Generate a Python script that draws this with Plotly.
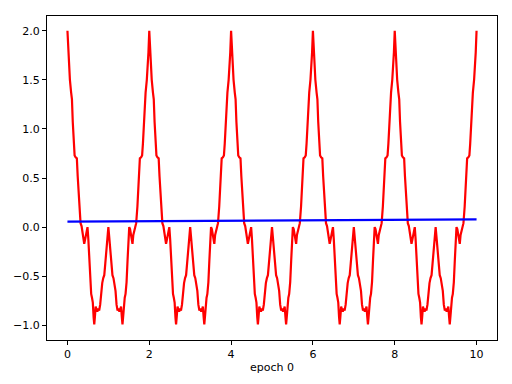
import plotly.graph_objects as go

# Half-period of the red target curve (t in [0, 1])
half_t = [0.000, 0.020, 0.040, 0.060, 0.090, 0.110, 0.130, 0.155, 0.175, 0.200,
          0.230, 0.250, 0.270, 0.290, 0.320, 0.345, 0.370, 0.390, 0.410, 0.430,
          0.450, 0.470, 0.490, 0.510, 0.530, 0.555, 0.580, 0.600, 0.620, 0.640,
          0.655, 0.670, 0.690, 0.710, 0.730, 0.755, 0.775, 0.800, 0.825, 0.850,
          0.875, 0.900, 0.925, 0.950, 0.975, 1.000]
half_y = [2.00, 1.78, 1.62, 1.50, 1.37, 1.30, 1.07, 0.85, 0.73, 0.71,
          0.70, 0.52, 0.36, 0.21, 0.04, 0.01, -0.05, -0.08, -0.17, -0.13,
          -0.08, -0.02, 0.00, -0.12, -0.33, -0.56, -0.68, -0.72, -0.77, -0.92,
          -0.99, -0.92, -0.81, -0.84, -0.86, -0.83, -0.85, -0.79, -0.65, -0.57,
          -0.52, -0.49, -0.37, -0.25, -0.12, 0.00]
n_periods = 5
period_len = 2.0

# Blue model output (nearly flat line)
blue_x = [0.0, 2.5, 5.0, 7.5, 10.0]
blue_y = [0.055, 0.061, 0.066, 0.072, 0.078]

x_ticks = [0, 2, 4, 6, 8, 10]
y_ticks = [-1.0, -0.5, 0.0, 0.5, 1.0, 1.5, 2.0]
x_label = "epoch 0"

# one full period from the read half (mirror about t = 1)
period_x = half_t + [period_len - t for t in reversed(half_t[:-1])]
period_y = half_y + list(reversed(half_y[:-1]))

red_x, red_y = [], []
for k in range(n_periods):
    xs = period_x if k == 0 else period_x[1:]
    ys = period_y if k == 0 else period_y[1:]
    red_x += [k * period_len + v for v in xs]
    red_y += ys

fig = go.Figure()
fig.add_trace(go.Scatter(x=red_x, y=red_y, mode="lines",
                         line=dict(color="#ff0000", width=2.2), showlegend=False))
fig.add_trace(go.Scatter(x=blue_x, y=blue_y, mode="lines",
                         line=dict(color="#0000ff", width=2.2), showlegend=False))

axis_common = dict(showline=True, linecolor="black", linewidth=1, mirror=True,
                   ticks="outside", ticklen=4, tickwidth=1, tickcolor="black",
                   showgrid=False, zeroline=False, automargin=False,
                   tickfont=dict(family="DejaVu Sans", size=11, color="black"))

fig.update_layout(
    width=512, height=384,
    margin=dict(l=47, r=15, t=16, b=44),
    paper_bgcolor="white", plot_bgcolor="white",
    xaxis=dict(range=[-0.5, 10.5], tickvals=x_ticks, **axis_common,
               title=dict(text=x_label, standoff=3,
                          font=dict(family="DejaVu Sans", size=11, color="black"))),
    yaxis=dict(range=[-1.15, 2.15], tickvals=y_ticks, tickformat=".1f", **axis_common),
)

fig.write_html("out.html",
               config={"displayModeBar": False},
               post_script="document.body.style.margin='0';document.body.style.overflow='hidden';")
